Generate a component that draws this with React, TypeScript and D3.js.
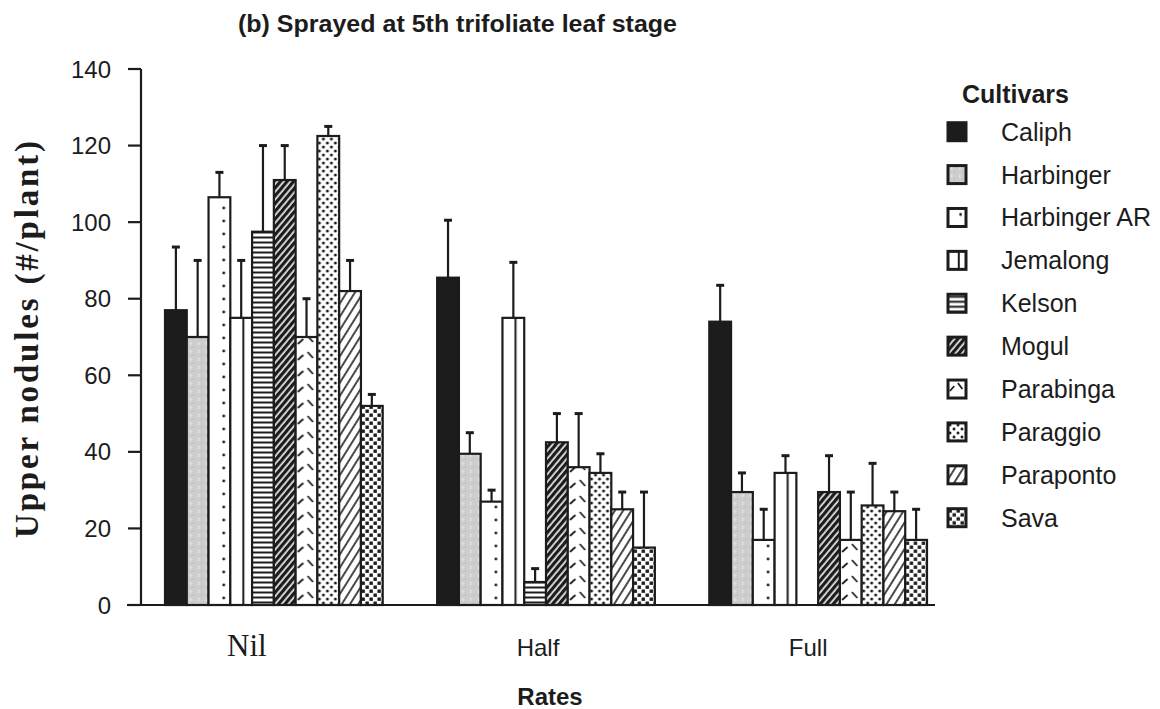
import React from "react";
import * as d3 from "d3";

// ---------- data ----------
const rates = ["Nil", "Half", "Full"];
const cultivars = [
  "Caliph",
  "Harbinger",
  "Harbinger AR",
  "Jemalong",
  "Kelson",
  "Mogul",
  "Parabinga",
  "Paraggio",
  "Paraponto",
  "Sava",
];
const nilMeans = [77, 70, 106.5, 75, 97.5, 111, 70, 122.5, 82, 52];
const nilErrors = [16.5, 20, 6.5, 15, 22.5, 9, 10, 2.5, 8, 3];
const halfMeans = [85.5, 39.5, 27, 75, 6, 42.5, 36, 34.5, 25, 15];
const halfErrors = [15, 5.5, 3, 14.5, 3.5, 7.5, 14, 5, 4.5, 14.5];
const fullMeans = [74, 29.5, 17, 34.5, 0, 29.5, 17, 26, 24.5, 17];
const fullErrors = [9.5, 5, 8, 4.5, 0, 9.5, 12.5, 11, 5, 8];
const yTicks = [0, 20, 40, 60, 80, 100, 120, 140];

const titleText = "(b) Sprayed at 5th trifoliate leaf stage";
const yLabelText = "Upper  nodules  (#/plant)";
const xLabelText = "Rates";
const legendTitle = "Cultivars";

const meansByRate = [nilMeans, halfMeans, fullMeans];
const errorsByRate = [nilErrors, halfErrors, fullErrors];

// ---------- layout ----------
const W = 1160;
const H = 709;
const axisX = 141;
const baseY = 605;
const topY = 69;
const INK = "#1c1c1c";
const SANS = "'Liberation Sans', Arial, Helvetica, sans-serif";
const SERIF = "'Liberation Serif', 'Times New Roman', serif";
const rateLabelShift = [-27, -8, -10];
const rateLabelFont = [SERIF, SANS, SANS];
const rateLabelSize = [31, 24, 24];

const y = d3.scaleLinear().domain([0, 140]).range([baseY, topY]);
const xg = d3.scaleBand<string>().domain(rates).range([165, 927]).paddingInner(0.2).paddingOuter(0);
const xc = d3.scaleBand<string>().domain(cultivars).range([0, xg.bandwidth()]);
const legendY = d3.scalePoint<string>().domain(cultivars).range([131.7, 517.7]);

function Pattern({ id, ci, x0, y0, w }: { id: string; ci: number; x0: number; y0: number; w: number }) {
  const common = { id, patternUnits: "userSpaceOnUse" as const, x: x0, y: y0 };
  switch (ci) {
    case 1:
      return (
        <pattern {...common} width={8} height={8}>
          <rect width={8} height={8} fill="#cdcdcd" />
          <rect x={3} y={1} width={1.5} height={3} fill="#e6e6e6" />
          <rect x={6} y={5} width={1.2} height={2} fill="#bdbdbd" />
        </pattern>
      );
    case 2:
      return (
        <pattern {...common} width={w} height={13}>
          <rect width={w} height={13} fill="#fff" />
          <circle cx={w * 0.7} cy={6} r={1.4} fill={INK} />
        </pattern>
      );
    case 3:
      return (
        <pattern {...common} width={w} height={10}>
          <rect width={w} height={10} fill="#fff" />
          <line x1={w * 0.6} x2={w * 0.6} y1={0} y2={10} stroke={INK} strokeWidth={2} />
        </pattern>
      );
    case 4:
      return (
        <pattern {...common} width={10} height={5}>
          <rect width={10} height={5} fill="#fff" />
          <line x1={0} x2={10} y1={2.5} y2={2.5} stroke={INK} strokeWidth={2} />
        </pattern>
      );
    case 5:
      return (
        <pattern id={id} patternUnits="userSpaceOnUse" width={5} height={10} patternTransform="rotate(40)">
          <rect width={5} height={10} fill="#e0e0e0" />
          <line x1={1.6} x2={1.6} y1={0} y2={10} stroke={INK} strokeWidth={3.2} />
        </pattern>
      );
    case 6:
      return (
        <pattern {...common} width={w} height={16}>
          <rect width={w} height={16} fill="#fff" />
          <line x1={w * 0.1} y1={11} x2={w * 0.35} y2={6} stroke={INK} strokeWidth={1.8} />
          <line x1={w * 0.55} y1={3} x2={w * 0.8} y2={9} stroke={INK} strokeWidth={1.8} />
        </pattern>
      );
    case 7:
      return (
        <pattern {...common} width={8} height={8}>
          <rect width={8} height={8} fill="#fff" />
          <circle cx={2} cy={2} r={1.5} fill={INK} />
          <circle cx={6} cy={6} r={1.5} fill={INK} />
        </pattern>
      );
    case 8:
      return (
        <pattern id={id} patternUnits="userSpaceOnUse" width={7} height={10} patternTransform="rotate(32)">
          <rect width={7} height={10} fill="#fff" />
          <line x1={1} x2={1} y1={0} y2={10} stroke={INK} strokeWidth={1.6} />
        </pattern>
      );
    case 9:
      return (
        <pattern {...common} width={8} height={8}>
          <rect width={8} height={8} fill="#fff" />
          <rect x={0.5} y={0.5} width={3.4} height={3.4} fill={INK} />
          <rect x={4.5} y={4.5} width={3.4} height={3.4} fill={INK} />
        </pattern>
      );
    default:
      return null;
  }
}

function fillFor(ci: number, id: string) {
  if (ci === 0) return INK;
  return `url(#${id})`;
}

export default function App() {
  const bw = xc.bandwidth();
  const defs: React.ReactNode[] = [];
  const bars: React.ReactNode[] = [];
  const errs: React.ReactNode[] = [];

  rates.forEach((r, gi) => {
    cultivars.forEach((c, ci) => {
      const v = meansByRate[gi][ci];
      if (!v) return;
      const e = errorsByRate[gi][ci];
      const bx = (xg(r) as number) + (xc(c) as number);
      const id = `p-${gi}-${ci}`;
      defs.push(<Pattern key={id} id={id} ci={ci} x0={bx} y0={baseY} w={bw} />);
      bars.push(
        <rect
          key={`b-${id}`}
          x={bx}
          y={y(v)}
          width={bw}
          height={baseY - y(v)}
          fill={fillFor(ci, id)}
          stroke={INK}
          strokeWidth={2.2}
        />
      );
      const cx = bx + bw / 2;
      errs.push(
        <g key={`e-${id}`} stroke={INK}>
          <line x1={cx} x2={cx} y1={y(v)} y2={y(v + e)} strokeWidth={2.2} />
          <line x1={cx - 4} x2={cx + 4} y1={y(v + e)} y2={y(v + e)} strokeWidth={3} />
        </g>
      );
    });
  });

  const iconX = 948;
  const iconS = 18;
  cultivars.forEach((c, ci) => {
    const id = `lg-${ci}`;
    defs.push(<Pattern key={id} id={id} ci={ci} x0={iconX} y0={(legendY(c) as number) - iconS / 2} w={iconS} />);
  });

  return (
    <svg
      width={W}
      height={H}
      viewBox={`0 0 ${W} ${H}`}
      style={{ position: "absolute", left: 0, top: 0, background: "#fff" }}
    >
      <defs>{defs}</defs>
      <rect width={W} height={H} fill="#fff" />

      {/* title */}
      <text x={238} y={32} fontFamily={SANS} fontWeight="bold" fontSize={23} fill={INK} textLength={439} lengthAdjust="spacingAndGlyphs">
        {titleText}
      </text>

      {/* bars */}
      {bars}
      {errs}

      {/* axes */}
      <line x1={axisX} x2={axisX} y1={topY} y2={baseY} stroke={INK} strokeWidth={2.2} />
      <line x1={127} x2={935} y1={baseY} y2={baseY} stroke={INK} strokeWidth={2.2} />
      {yTicks.map((t) => (
        <g key={t}>
          <line x1={128} x2={axisX} y1={y(t)} y2={y(t)} stroke={INK} strokeWidth={2.2} />
          <text x={111} y={y(t)} dy="0.36em" textAnchor="end" fontFamily={SANS} fontSize={24} fill={INK}>
            {t}
          </text>
        </g>
      ))}

      {/* rate labels */}
      {rates.map((r, gi) => (
        <text
          key={r}
          x={(xg(r) as number) + xg.bandwidth() / 2 + rateLabelShift[gi]}
          y={656}
          textAnchor="middle"
          fontFamily={rateLabelFont[gi]}
          fontSize={rateLabelSize[gi]}
          fill={INK}
        >
          {r}
        </text>
      ))}
      <text x={550} y={705} textAnchor="middle" fontFamily={SANS} fontWeight="bold" fontSize={24} fill={INK}>
        {xLabelText}
      </text>

      {/* y label */}
      <text
        transform={`translate(38, 339.5) rotate(-90)`}
        textAnchor="middle"
        fontFamily={SERIF}
        fontWeight="bold"
        fontSize={33}
        fill={INK}
        textLength={397}
        lengthAdjust="spacing"
      >
        {yLabelText}
      </text>

      {/* legend */}
      <text x={962} y={103} fontFamily={SANS} fontWeight="bold" fontSize={25} fill={INK}>
        {legendTitle}
      </text>
      {cultivars.map((c, ci) => {
        const cy = legendY(c) as number;
        return (
          <g key={c}>
            <rect
              x={iconX}
              y={cy - iconS / 2}
              width={iconS}
              height={iconS}
              fill={fillFor(ci, `lg-${ci}`)}
              stroke={INK}
              strokeWidth={3}
            />
            <text x={1001} y={cy} dy="0.36em" fontFamily={SANS} fontSize={25} fill={INK}>
              {c}
            </text>
          </g>
        );
      })}
    </svg>
  );
}
